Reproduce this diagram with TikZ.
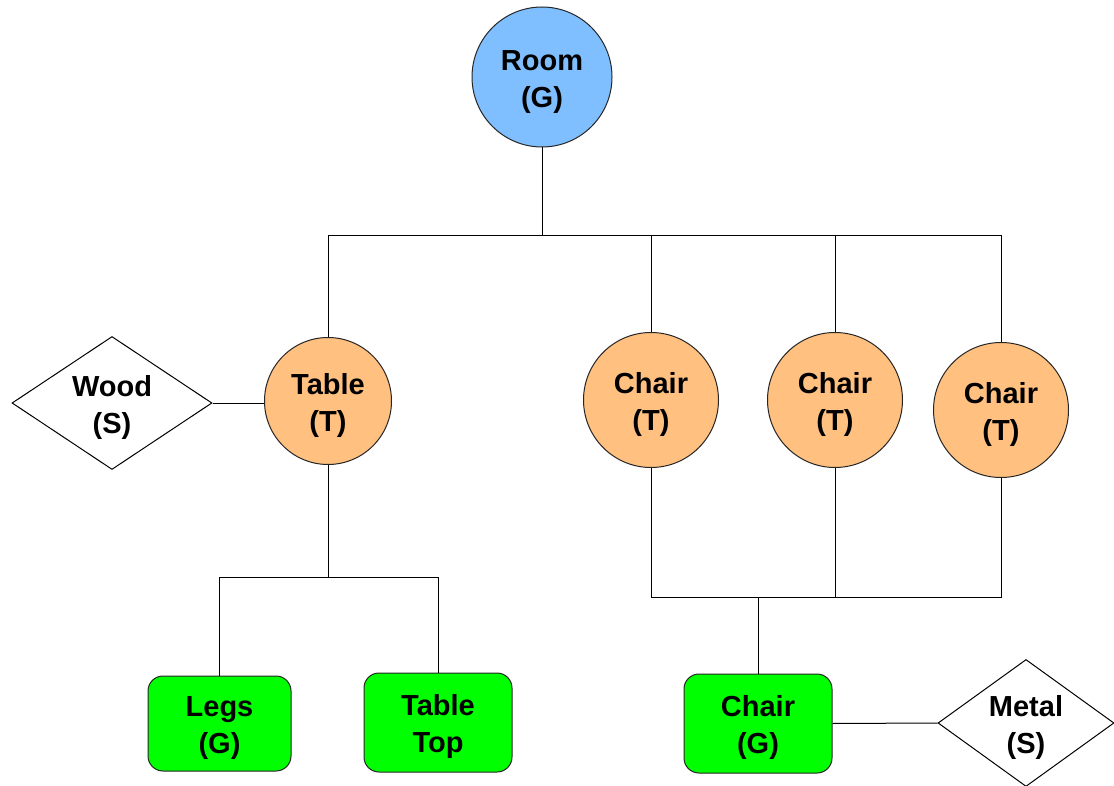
\documentclass[tikz,border=0pt]{standalone}
\usepackage{fontspec}
\setmainfont{Liberation Sans}
\usetikzlibrary{shapes.geometric}
\definecolor{roomblue}{HTML}{80BFFF}
\definecolor{tableorange}{HTML}{FFC080}
\definecolor{leafgreen}{HTML}{00FF00}
\newcommand{\topstrut}{\rule{0pt}{30pt}}
\tikzset{
  lbl/.style={font=\fontsize{29}{37}\selectfont\bfseries, align=center, text=black, inner sep=0pt},
  gcircle/.style={lbl, circle, draw=black!85, line width=1pt, fill=roomblue},
  tcircle/.style={lbl, circle, draw=black!85, line width=1pt, fill=tableorange},
  gbox/.style={lbl, rectangle, rounded corners=15pt, draw=black!85, line width=1pt, fill=leafgreen},
  sdiamond/.style={lbl, diamond, aspect=1.5, draw=black, line width=1pt, fill=white},
  conn/.style={draw=black, line width=1pt}
}
\begin{document}
\begin{tikzpicture}[x=1pt, y=-1pt]
\useasboundingbox (0,0) rectangle (1114,786);
\fill[white] (0,0) rectangle (1114,786);

% nodes
\node[gcircle, minimum size=140pt] (room) at (542,77) {\topstrut Room\\(G)};
\node[tcircle, minimum size=127pt] (table) at (328,401) {\topstrut Table\\(T)};
\node[tcircle, minimum size=135pt] (chair1) at (651,400) {\topstrut Chair\\(T)};
\node[tcircle, minimum size=135pt] (chair2) at (835,400) {\topstrut Chair\\(T)};
\node[tcircle, minimum size=135pt] (chair3) at (1001,410) {\topstrut Chair\\(T)};
\node[sdiamond, minimum width=200pt, minimum height=133pt] (wood) at (112,403) {\topstrut Wood\\(S)};
\node[gbox, minimum width=143pt, minimum height=95pt] (legs) at (219.5,723.5) {\topstrut Legs\\(G)};
\node[gbox, minimum width=148pt, minimum height=99pt] (top) at (438,722.5) {\topstrut Table\\Top};
\node[gbox, minimum width=148pt, minimum height=99pt] (chairg) at (758,723.5) {\topstrut Chair\\(G)};
\node[sdiamond, aspect=1.38, minimum width=176pt, minimum height=127pt] (metal) at (1026,723) {\topstrut Metal\\(S)};

% bus levels
\coordinate (bus1) at (0,236);
\coordinate (bus2) at (0,577);
\coordinate (bus3) at (0,597);

% connectors
\draw[conn] (room.south) -- (room.south |- bus1);
\draw[conn] (table.north) |- (chair3.north |- bus1) -- (chair3.north);
\draw[conn] (chair1.north) -- (chair1.north |- bus1);
\draw[conn] (chair2.north) -- (chair2.north |- bus1);

\draw[conn] (wood.east) -- (wood.east -| table.west);

\draw[conn] (table.south) -- (table.south |- bus2);
\draw[conn] (legs.north) |- (top.north |- bus2) -- (top.north);

\draw[conn] (chair1.south) |- (chair3.south |- bus3) -- (chair3.south);
\draw[conn] (chair2.south) -- (chair2.south |- bus3);
\draw[conn] (chairg.north) -- (chairg.north |- bus3);

\draw[conn] (chairg.east) -- (metal.west);
\end{tikzpicture}
\end{document}
